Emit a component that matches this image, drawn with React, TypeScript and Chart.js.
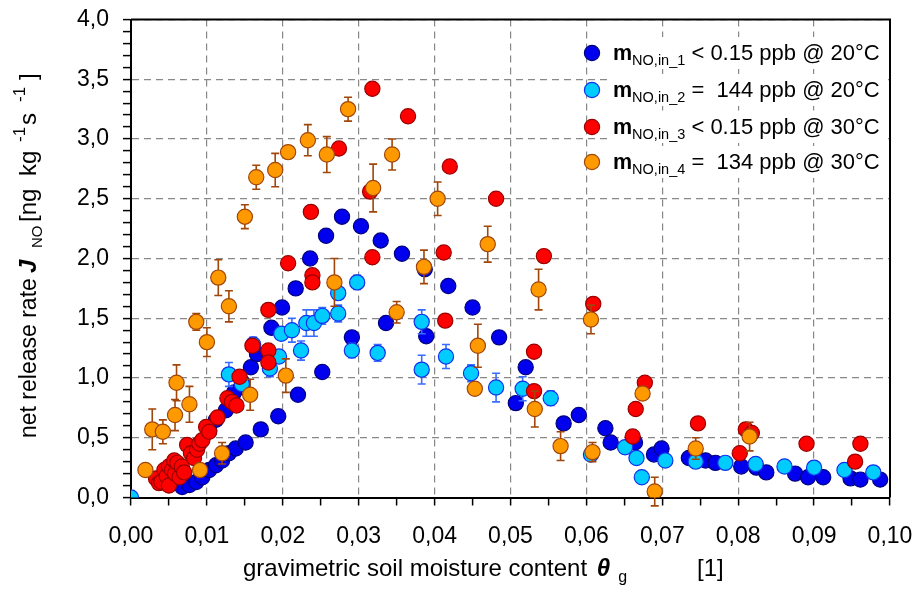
import { useEffect, useRef } from 'react';
import { Chart, registerables } from 'chart.js';

Chart.register(...registerables);

const FONT = '"Liberation Sans", Arial, sans-serif';

// Series 1: m_NO,in_1 < 0.15 ppb @ 20°C
const s1x = [0.00675, 0.0077, 0.0086, 0.0094, 0.0103, 0.0112, 0.012, 0.0129, 0.0138, 0.0151, 0.0171, 0.0194, 0.022, 0.0252, 0.0291, 0.0336, 0.0389,
  0.0103, 0.0112, 0.0125, 0.0136, 0.0147, 0.0158, 0.0166, 0.0185, 0.0199, 0.0217, 0.0236, 0.0257, 0.0278, 0.0303, 0.0329, 0.0357, 0.0387, 0.0418, 0.045, 0.0485,
  0.052, 0.0507, 0.057, 0.059, 0.0625, 0.0632, 0.0664, 0.0689, 0.0699, 0.0735, 0.0757, 0.077, 0.0804, 0.0824, 0.0837, 0.0875, 0.0892, 0.0912, 0.0948, 0.0961, 0.0987];
const s1y = [0.088, 0.105, 0.13, 0.17, 0.23, 0.27, 0.31, 0.37, 0.41, 0.46, 0.57, 0.68, 0.86, 1.05, 1.34, 1.46, 1.35,
  0.56, 0.65, 0.73, 0.88, 0.96, 1.09, 1.2, 1.42, 1.59, 1.75, 2.0, 2.19, 2.35, 2.27, 2.15, 2.04, 1.91, 1.77, 1.59, 1.34,
  1.09, 0.79, 0.62, 0.69, 0.58, 0.46, 0.46, 0.36, 0.41, 0.33, 0.31, 0.29, 0.26, 0.25, 0.21, 0.2, 0.17, 0.17, 0.16, 0.15, 0.15];

// Series 2: m_NO,in_2 = 144 ppb @ 20°C
const s2x = [0, 0.0129, 0.0146, 0.0161, 0.0183, 0.0195, 0.0198, 0.0212, 0.0224, 0.0231, 0.0241, 0.0252, 0.0273, 0.0273, 0.0298, 0.0291, 0.0325, 0.0383,
  0.0383, 0.0415, 0.0448, 0.0481, 0.0516, 0.0553, 0.0606, 0.0651, 0.0666, 0.0673, 0.0704, 0.0744, 0.0783, 0.0823, 0.0861, 0.09, 0.094, 0.0978];
const s2y = [0, 1.03, 0.95, 1.28, 1.08, 1.18, 1.37, 1.4, 1.23, 1.46, 1.46, 1.52, 1.54, 1.71, 1.8, 1.23, 1.21, 1.47,
  1.07, 1.18, 1.04, 0.92, 0.91, 0.83, 0.36, 0.42, 0.33, 0.17, 0.31, 0.3, 0.29, 0.28, 0.26, 0.25, 0.23, 0.21];
const s2err = [0, 0.1, 0.05, 0.06, 0.07, 0.05, 0.05, 0.1, 0.08, 0.11, 0.11, 0.07, 0.07, 0.05, 0.06, 0.06, 0.07, 0.1,
  0.12, 0.1, 0.07, 0.12, 0.1, 0.06, 0.03, 0.04, 0.03, 0.03, 0.03, 0.04, 0.03, 0.03, 0.03, 0.03, 0.03, 0.03];

// Series 3: m_NO,in_3 < 0.15 ppb @ 30°C
const s3x = [0.0033, 0.0037, 0.004, 0.0044, 0.0047, 0.005, 0.005, 0.0054, 0.0057, 0.0058, 0.0061, 0.0064, 0.0067, 0.007, 0.0074, 0.0079, 0.0083, 0.0087, 0.009, 0.0094,
  0.0099, 0.0103, 0.0114, 0.0127, 0.0133, 0.0139, 0.0143, 0.016, 0.0181, 0.0181, 0.0181, 0.0207, 0.0239, 0.0239, 0.0237, 0.0274, 0.0318, 0.0315, 0.0318,
  0.0365, 0.042, 0.0412, 0.0414, 0.0481, 0.0544, 0.0531, 0.0531, 0.0609, 0.0677, 0.0665, 0.0661, 0.0747, 0.081, 0.0818, 0.0802, 0.089, 0.0961, 0.0954];
const s3y = [0.16, 0.12, 0.13, 0.23, 0.18, 0.1, 0.26, 0.23, 0.31, 0.2, 0.29, 0.17, 0.26, 0.21, 0.44, 0.37, 0.33, 0.4, 0.45, 0.48,
  0.59, 0.55, 0.67, 0.83, 0.8, 0.77, 1.01, 1.27, 1.23, 1.13, 1.57, 1.96, 1.86, 1.8, 2.39, 2.92, 3.42, 2.56, 2.01,
  3.19, 2.77, 2.05, 1.48, 2.5, 2.02, 1.22, 0.89, 1.62, 0.96, 0.74, 0.51, 0.62, 0.57, 0.54, 0.37, 0.45, 0.45, 0.3];

// Series 4: m_NO,in_4 = 134 ppb @ 30°C
const s4x = [0.0019, 0.0028, 0.0042, 0.0058, 0.006, 0.0077, 0.0091, 0.01, 0.0086, 0.0115, 0.0129, 0.012, 0.015, 0.0157, 0.0165, 0.019, 0.0204, 0.0207, 0.0233, 0.0258,
  0.0268, 0.0286, 0.0319, 0.0344, 0.035, 0.0386, 0.0404, 0.0453, 0.0457, 0.047, 0.0532, 0.0537, 0.0566, 0.0606, 0.0608, 0.0674, 0.069, 0.0744, 0.0815];
const s4y = [0.23, 0.57, 0.55, 0.69, 0.96, 0.78, 0.23, 1.3, 1.47, 1.84, 1.6, 0.37, 2.35, 0.86, 2.68, 2.74, 1.02, 2.89, 2.99, 2.87,
  1.8, 3.25, 2.59, 2.87, 1.55, 1.93, 2.5, 0.91, 1.27, 2.12, 0.74, 1.74, 0.43, 1.49, 0.38, 0.87, 0.05, 0.41, 0.51];
const s4err = [0.05, 0.17, 0.1, 0.13, 0.15, 0.15, 0.05, 0.12, 0.07, 0.15, 0.13, 0.09, 0.1, 0.13, 0.1, 0.14, 0.14, 0.05, 0.13, 0.15,
  0.2, 0.1, 0.2, 0.13, 0.09, 0.14, 0.14, 0.05, 0.18, 0.15, 0.15, 0.17, 0.12, 0.12, 0.08, 0.05, 0.12, 0.09, 0.12];

const legendSubs = ['NO,in_1', 'NO,in_2', 'NO,in_3', 'NO,in_4'];
const legendTexts = [' < 0.15 ppb @ 20°C', ' =  144 ppb @ 20°C', ' < 0.15 ppb @ 30°C', ' =  134 ppb @ 30°C'];

const fills = ['#0000ee', '#00ccff', '#ff0000', '#ff9900'];
const borders = ['#000080', '#1030ee', '#990000', '#a0460a'];
const errColors = ['#000080', '#3a6cff', '#990000', '#a0460a'];

const X_MIN = 0, X_MAX = 0.1, Y_MIN = 0, Y_MAX = 4;

type Piece = { t: string; size: number; weight?: string; style?: string; dy?: number; gap?: number; at?: number };

function drawRich(ctx: CanvasRenderingContext2D, pieces: Piece[], x: number, y: number) {
  let cx = x;
  for (const p of pieces) {
    if (p.at !== undefined) cx = x + p.at;
    cx += p.gap || 0;
    ctx.font = `${p.style || 'normal'} ${p.weight || 'normal'} ${p.size}px ${FONT}`;
    ctx.fillText(p.t, cx, y + (p.dy || 0));
    cx += ctx.measureText(p.t).width;
  }
  return cx;
}

const isMajor = (v: number, step: number) => Math.abs(v / step - Math.round(v / step)) < 1e-6;

export default function App() {
  const ref = useRef<HTMLCanvasElement | null>(null);

  useEffect(() => {
    document.body.style.margin = '0';
    const canvas = ref.current;
    if (!canvas) return;

    const mk = (xs: number[], ys: number[]) => xs.map((x, i) => ({ x, y: ys[i] }));
    const errs = [null, s2err, null, s4err];

    const decor = {
      id: 'decor',
      beforeDatasetDraw(chart: any, args: any) {
        const e = errs[args.index];
        if (!e) return;
        const ctx = chart.ctx as CanvasRenderingContext2D;
        const xs = chart.scales.x, ys = chart.scales.y;
        const data = chart.data.datasets[args.index].data as { x: number; y: number }[];
        ctx.save();
        ctx.strokeStyle = errColors[args.index];
        ctx.lineWidth = 1.6;
        data.forEach((d, i) => {
          if (!e[i]) return;
          const px = xs.getPixelForValue(d.x);
          const y1 = ys.getPixelForValue(d.y - e[i]);
          const y2 = ys.getPixelForValue(d.y + e[i]);
          ctx.beginPath();
          ctx.moveTo(px, y1); ctx.lineTo(px, y2);
          ctx.moveTo(px - 4, y1); ctx.lineTo(px + 4, y1);
          ctx.moveTo(px - 4, y2); ctx.lineTo(px + 4, y2);
          ctx.stroke();
        });
        ctx.restore();
      },
      beforeDatasetsDraw(chart: any) {
        const ctx = chart.ctx as CanvasRenderingContext2D;
        const a = chart.chartArea;
        ctx.save();
        ctx.strokeStyle = '#000';
        ctx.lineWidth = 2;
        ctx.beginPath();
        ctx.moveTo(a.left, a.top); ctx.lineTo(a.right, a.top); ctx.lineTo(a.right, a.bottom);
        ctx.stroke();
        ctx.restore();
      },
      afterDraw(chart: any) {
        const ctx = chart.ctx as CanvasRenderingContext2D;
        ctx.save();
        ctx.fillStyle = '#000';
        ctx.textAlign = 'left';
        ctx.textBaseline = 'alphabetic';
        // x title
        drawRich(ctx, [
          { t: 'gravimetric soil moisture content ', size: 24 },
          { t: 'θ', size: 24, weight: 'bold', style: 'italic', gap: 3 },
          { t: 'g', size: 16, dy: 6, gap: 8 },
          { t: '[1]', size: 24, gap: 70 },
        ], 243, 576);
        // y title (rotated)
        ctx.save();
        ctx.translate(36, 438);
        ctx.rotate(-Math.PI / 2);
        drawRich(ctx, [
          { t: 'net release rate ', size: 23 },
          { t: 'J', size: 24, weight: 'bold', style: 'italic', at: 165 },
          { t: 'NO', size: 15, dy: 6, at: 190 },
          { t: '[ng', size: 24, at: 216 },
          { t: 'kg', size: 24, at: 262 },
          { t: '-1', size: 17, dy: -11, at: 296 },
          { t: 's', size: 24, at: 313 },
          { t: '-1', size: 17, dy: -11, at: 336 },
          { t: ']', size: 24, at: 358 },
        ], 0, 0);
        ctx.restore();
        // legend
        const rows = [53, 90, 127, 162];
        rows.forEach((cy, i) => {
          ctx.fillStyle = '#fff';
          ctx.fillRect(607, cy - 16, 277, 32);
          ctx.beginPath();
          ctx.arc(592, cy, 7.6, 0, Math.PI * 2);
          ctx.fillStyle = fills[i];
          ctx.fill();
          ctx.lineWidth = 1.2;
          ctx.strokeStyle = borders[i];
          ctx.stroke();
          ctx.fillStyle = '#000';
          drawRich(ctx, [
            { t: 'm', size: 21.5, weight: 'bold' },
            { t: legendSubs[i], size: 14.5, dy: 5 },
            { t: legendTexts[i], size: 22 },
          ], 613, cy + 7);
        });
        ctx.restore();
      },
    };

    const ds = [
      { data: mk(s1x, s1y), order: 4 },
      { data: mk(s2x, s2y), order: 3 },
      { data: mk(s3x, s3y), order: 2 },
      { data: mk(s4x, s4y), order: 1 },
    ].map((d, i) => ({
      ...d,
      label: 'm' + legendSubs[i] + legendTexts[i],
      backgroundColor: fills[i],
      borderColor: borders[i],
      pointBackgroundColor: fills[i],
      pointBorderColor: borders[i],
      pointRadius: 7.6,
      pointHoverRadius: 7.6,
      pointBorderWidth: 1.2,
      showLine: false,
    }));

    const tickFont = { family: FONT, size: 23 };

    const chart = new Chart(canvas, {
      type: 'scatter',
      data: { datasets: ds as any },
      options: {
        animation: false,
        responsive: false,
        devicePixelRatio: 1,
        layout: { padding: { top: 19.5, right: 26, left: 0, bottom: 0 } },
        plugins: { legend: { display: false }, tooltip: { enabled: false } },
        scales: {
          x: {
            type: 'linear',
            min: X_MIN,
            max: X_MAX,
            afterFit: (s: any) => {
              s.height = 96.5;
              s.paddingLeft = 0; s.paddingRight = 0; s.paddingTop = 0; s.paddingBottom = 0;
            },
            ticks: {
              stepSize: 0.005,
              autoSkip: false,
              maxRotation: 0,
              padding: 17,
              color: '#000',
              font: tickFont,
              callback: (v: any) => (isMajor(Number(v), 0.01) ? Number(v).toFixed(2).replace('.', ',') : ''),
            },
            grid: {
              color: (c: any) => (isMajor(c.tick.value, 0.01) ? '#888888' : 'rgba(0,0,0,0)'),
              lineWidth: 1.2,
              tickColor: '#000',
              tickLength: 8,
              tickWidth: 1.5,
            },
            border: { color: '#000', width: 2, dash: [7, 5] },
          },
          y: {
            type: 'linear',
            min: Y_MIN,
            max: Y_MAX,
            afterFit: (s: any) => {
              s.width = 131;
              s.paddingLeft = 0; s.paddingRight = 0; s.paddingTop = 0; s.paddingBottom = 0;
            },
            ticks: {
              stepSize: 0.1,
              autoSkip: false,
              padding: 14,
              color: '#000',
              font: tickFont,
              callback: (v: any) => (isMajor(Number(v), 0.5) ? Number(v).toFixed(1).replace('.', ',') : ''),
            },
            grid: {
              color: (c: any) => (isMajor(c.tick.value, 0.5) ? '#888888' : 'rgba(0,0,0,0)'),
              lineWidth: 1.2,
              tickColor: '#000',
              tickLength: 8,
              tickWidth: 1.5,
            },
            border: { color: '#000', width: 2, dash: [7, 5] },
          },
        },
      },
      plugins: [decor],
    });

    return () => chart.destroy();
  }, []);

  return (
    <div style={{ width: 916, height: 594, position: 'relative', background: '#fff' }}>
      <canvas ref={ref} width={916} height={594} style={{ display: 'block', width: 916, height: 594 }} />
    </div>
  );
}
